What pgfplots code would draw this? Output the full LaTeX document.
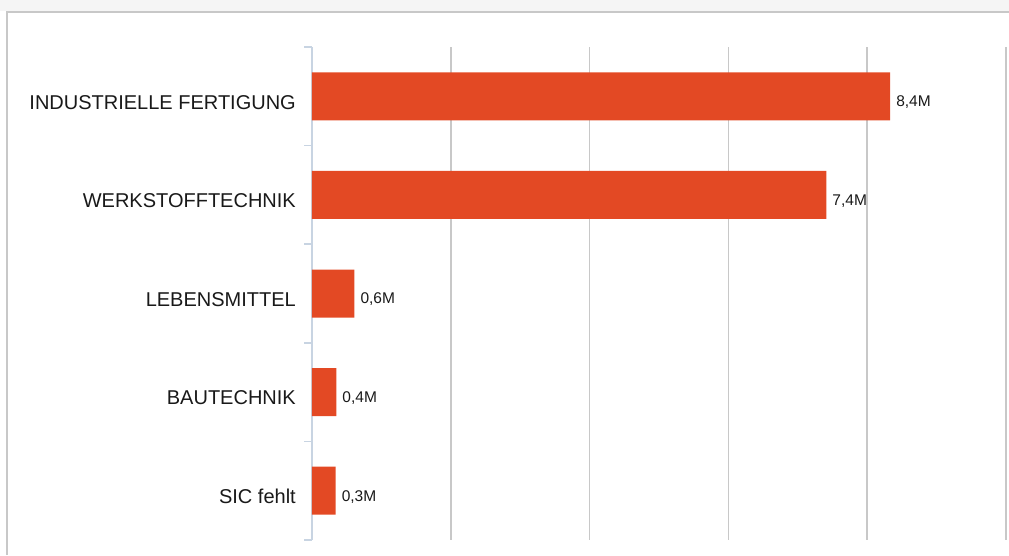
\documentclass[border=0pt]{standalone}
\usepackage{pgfplots}
\pgfplotsset{compat=1.18}
\usepackage{fontspec}
\setmainfont{Liberation Sans}
\definecolor{barred}{RGB}{227,73,36}
\definecolor{axblue}{RGB}{200,212,226}
\definecolor{gridgray}{RGB}{200,200,200}
\definecolor{framegray}{RGB}{200,200,200}
\begin{document}
\begin{tikzpicture}
\useasboundingbox (0pt,0pt) rectangle (1009pt,555pt);
\fill[black!4] (0pt,544pt) rectangle (1009pt,555pt);
\draw[framegray, line width=2pt] (7pt,0pt) -- (7pt,543pt) -- (1009pt,543pt);
\begin{axis}[
  at={(312pt,15pt)}, anchor=south west,
  scale only axis, width=694pt, height=493pt,
  xmin=0, xmax=10, ymin=-0.5, ymax=4.5,
  y dir=reverse,
  axis lines*=left,
  x axis line style={draw=none},
  y axis line style={draw=axblue, line width=1.5pt},
  xtick={2,4,6,8,10}, xticklabels={},
  xtick style={draw=none},
  xmajorgrids, grid style={gridgray, line width=1.5pt},
  ytick={0,1,2,3,4},
  yticklabels={INDUSTRIELLE FERTIGUNG, WERKSTOFFTECHNIK, LEBENSMITTEL, BAUTECHNIK, SIC fehlt},
  major tick length=0pt,
  minor ytick={-0.5,0.5,1.5,2.5,3.5,4.5},
  minor tick length=8pt,
  tick align=outside,
  minor tick style={axblue, line width=1.5pt},
  yticklabel style={font=\fontsize{20}{22}\selectfont, text=black!90, inner sep=0pt, xshift=-16pt, yshift=-6pt},
  xbar, bar width=48pt, bar shift=0pt,
  point meta=explicit symbolic,
  nodes near coords,
  nodes near coords style={font=\fontsize{15.5}{17}\selectfont, text=black!90, anchor=west, inner sep=0pt, xshift=6pt, yshift=-6pt},
  clip=false,
]
\addplot[draw=none, fill=barred] coordinates {
  (8.33,0) [8,4M]
  (7.41,1) [7,4M]
  (0.61,2) [0,6M]
  (0.35,3) [0,4M]
  (0.34,4) [0,3M]
};
\end{axis}
\end{tikzpicture}
\end{document}
